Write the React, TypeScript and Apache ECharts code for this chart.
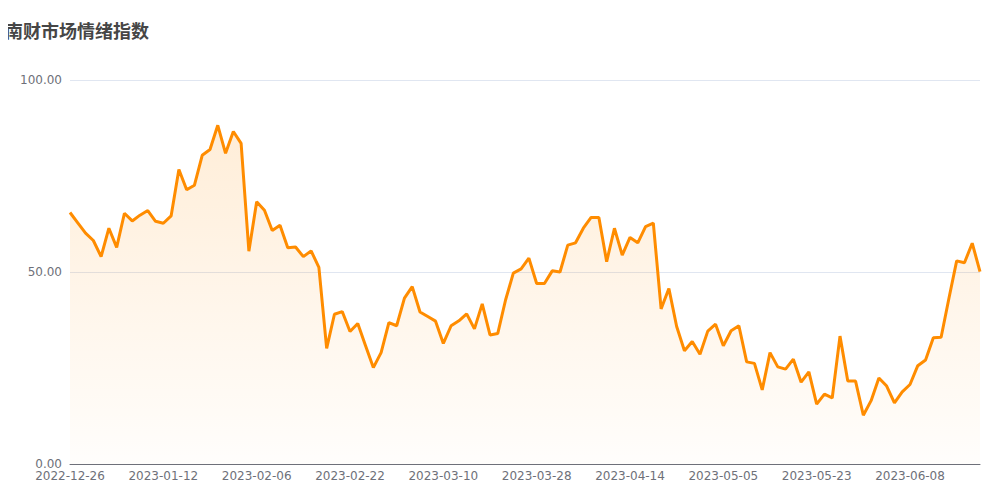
import React, { useEffect, useRef } from "react";
import * as echarts from "echarts";

const title = "南财市场情绪指数";

const dates = [
  "2022-12-26", "2022-12-27", "2022-12-28", "2022-12-29", "2022-12-30",
  "2023-01-03", "2023-01-04", "2023-01-05", "2023-01-06", "2023-01-09",
  "2023-01-10", "2023-01-11", "2023-01-12", "2023-01-13", "2023-01-16",
  "2023-01-17", "2023-01-18", "2023-01-19", "2023-01-20", "2023-01-30",
  "2023-01-31", "2023-02-01", "2023-02-02", "2023-02-03", "2023-02-06",
  "2023-02-07", "2023-02-08", "2023-02-09", "2023-02-10", "2023-02-13",
  "2023-02-14", "2023-02-15", "2023-02-16", "2023-02-17", "2023-02-20",
  "2023-02-21", "2023-02-22", "2023-02-23", "2023-02-24", "2023-02-27",
  "2023-02-28", "2023-03-01", "2023-03-02", "2023-03-03", "2023-03-06",
  "2023-03-07", "2023-03-08", "2023-03-09", "2023-03-10", "2023-03-13",
  "2023-03-14", "2023-03-15", "2023-03-16", "2023-03-17", "2023-03-20",
  "2023-03-21", "2023-03-22", "2023-03-23", "2023-03-24", "2023-03-27",
  "2023-03-28", "2023-03-29", "2023-03-30", "2023-03-31", "2023-04-03",
  "2023-04-04", "2023-04-06", "2023-04-07", "2023-04-10", "2023-04-11",
  "2023-04-12", "2023-04-13", "2023-04-14", "2023-04-17", "2023-04-18",
  "2023-04-19", "2023-04-20", "2023-04-21", "2023-04-24", "2023-04-25",
  "2023-04-26", "2023-04-27", "2023-04-28", "2023-05-04", "2023-05-05",
  "2023-05-08", "2023-05-09", "2023-05-10", "2023-05-11", "2023-05-12",
  "2023-05-15", "2023-05-16", "2023-05-17", "2023-05-18", "2023-05-19",
  "2023-05-22", "2023-05-23", "2023-05-24", "2023-05-25", "2023-05-26",
  "2023-05-29", "2023-05-30", "2023-05-31", "2023-06-01", "2023-06-02",
  "2023-06-05", "2023-06-06", "2023-06-07", "2023-06-08", "2023-06-09",
  "2023-06-12", "2023-06-13", "2023-06-14", "2023-06-15", "2023-06-16",
  "2023-06-19", "2023-06-20", "2023-06-21",
];

const sentiment = [
  65.5, 62.8, 60.1, 58.2, 54.0, 61.4, 56.4, 65.3, 63.3, 64.8,
  66.0, 63.2, 62.7, 64.6, 76.7, 71.4, 72.6, 80.4, 81.9, 88.2,
  80.9, 86.6, 83.5, 55.4, 68.3, 66.1, 60.8, 62.2, 56.3, 56.5,
  54.0, 55.5, 51.2, 30.1, 39.0, 39.7, 34.5, 36.6, 30.8, 25.1,
  29.0, 36.8, 36.0, 43.2, 46.2, 39.6, 38.4, 37.2, 31.4, 36.0,
  37.3, 39.1, 35.2, 41.7, 33.6, 34.0, 42.7, 49.7, 50.8, 53.6,
  47.0, 47.0, 50.3, 50.0, 57.0, 57.6, 61.4, 64.2, 64.2, 52.7,
  61.4, 54.4, 59.0, 57.6, 61.8, 62.7, 40.4, 45.7, 35.8, 29.5,
  31.9, 28.6, 34.6, 36.4, 30.8, 34.7, 36.0, 26.6, 26.2, 19.3,
  29.0, 25.3, 24.7, 27.3, 21.3, 24.0, 15.6, 18.2, 17.2, 33.3,
  21.6, 21.6, 12.7, 16.5, 22.4, 20.3, 15.9, 18.8, 20.7, 25.6,
  27.1, 32.9, 33.0, 43.1, 52.9, 52.4, 57.5, 50.1,
];

const yTicks = [0, 50, 100];

export default function App() {
  const ref = useRef<HTMLDivElement>(null);

  useEffect(() => {
    if (!ref.current) return;
    const chart = echarts.init(ref.current, null, { renderer: "svg" });
    chart.setOption({
      animation: false,
      backgroundColor: "#ffffff",
      title: {
        text: title,
        left: 0,
        top: 16,
        textStyle: {
          fontSize: 18,
          fontWeight: "bold",
          color: "#464646",
          fontFamily: "Noto Sans CJK SC, sans-serif",
        },
      },
      grid: { left: 70, right: 20, top: 80, bottom: 36 },
      xAxis: {
        type: "category",
        data: dates,
        boundaryGap: false,
        axisLine: { show: true, lineStyle: { color: "#6E7079" } },
        axisTick: { show: false },
        axisLabel: {
          interval: 11,
          color: "#6E7079",
          fontSize: 12,
          margin: 6,
          fontFamily: "DejaVu Sans, sans-serif",
        },
      },
      yAxis: {
        type: "value",
        min: yTicks[0],
        max: yTicks[yTicks.length - 1],
        interval: 50,
        axisLine: { show: false },
        axisTick: { show: false },
        splitLine: { lineStyle: { color: "#E0E6F1" } },
        axisLabel: {
          color: "#6E7079",
          fontSize: 12,
          margin: 8,
          fontFamily: "DejaVu Sans, sans-serif",
          formatter: (v: number) => v.toFixed(2),
        },
      },
      series: [
        {
          type: "line",
          data: sentiment,
          showSymbol: false,
          symbol: "none",
          lineStyle: { color: "#FF8C00", width: 3 },
          itemStyle: { color: "#FF8C00" },
          areaStyle: {
            color: new echarts.graphic.LinearGradient(0, 0, 0, 1, [
              { offset: 0, color: "rgba(255,140,0,0.22)" },
              { offset: 1, color: "rgba(255,140,0,0.02)" },
            ]),
          },
        },
      ],
    });
    return () => chart.dispose();
  }, []);

  return <div ref={ref} style={{ width: 1000, height: 500, margin: -8 }} />;
}
